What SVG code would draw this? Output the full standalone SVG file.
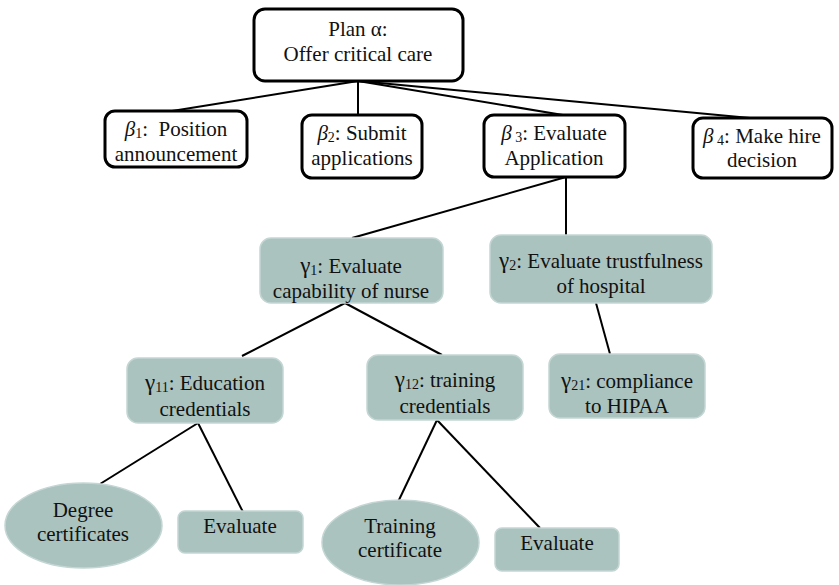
<svg xmlns="http://www.w3.org/2000/svg" width="839" height="585" viewBox="0 0 839 585">
<style>
text{font-family:"Liberation Serif","Times New Roman",serif;font-size:21px;fill:#111;text-anchor:middle}
.w{fill:#fff;stroke:#000;stroke-width:3}
.g{fill:#aac3bf;stroke:#c4d6d3;stroke-width:1.5}
.sub{font-size:14px}
.it{font-style:italic}
.gm{font-size:23px}
#connectors line{stroke:#000;stroke-width:2}
</style>
<rect width="839" height="585" fill="#fff"/>
<g id="connectors">
<line x1="358" y1="81" x2="172" y2="111"/>
<line x1="358" y1="81" x2="358" y2="115"/>
<line x1="358" y1="81" x2="563" y2="115"/>
<line x1="358" y1="81" x2="750" y2="118"/>
<line x1="566" y1="177" x2="352" y2="238"/>
<line x1="566" y1="177" x2="566" y2="235"/>
<line x1="345" y1="303" x2="242" y2="356"/>
<line x1="345" y1="303" x2="442" y2="355"/>
<line x1="596" y1="303" x2="610" y2="354"/>
<line x1="198" y1="423" x2="100" y2="484"/>
<line x1="198" y1="423" x2="243" y2="512"/>
<line x1="437" y1="420" x2="398" y2="502"/>
<line x1="437" y1="420" x2="540" y2="528"/>
</g>
<g id="plan">
<rect class="w" x="254" y="9" width="209" height="72" rx="11"/>
<text x="358" y="36">Plan α:</text>
<text x="358" y="61">Offer critical care</text>
</g>
<g id="b1">
<rect class="w" x="105" y="111" width="142" height="56" rx="10"/>
<text x="176" y="136"><tspan class="it">β</tspan><tspan class="sub" dy="2">1</tspan><tspan dy="-2">: &#160;Position</tspan></text>
<text x="176" y="161">announcement</text>
</g>
<g id="b2">
<rect class="w" x="302" y="115" width="120" height="63" rx="10"/>
<text x="362" y="140"><tspan class="it">β</tspan><tspan class="sub" dy="2">2</tspan><tspan dy="-2">: Submit</tspan></text>
<text x="362" y="165">applications</text>
</g>
<g id="b3">
<rect class="w" x="484" y="115" width="141" height="62" rx="10"/>
<text x="554" y="140"><tspan class="it">β</tspan><tspan class="sub" dy="2"> 3</tspan><tspan dy="-2">: Evaluate</tspan></text>
<text x="554" y="165">Application</text>
</g>
<g id="b4">
<rect class="w" x="693" y="118" width="139" height="60" rx="10"/>
<text x="762" y="143"><tspan class="it">β</tspan><tspan class="sub" dy="2"> 4</tspan><tspan dy="-2">: Make hire</tspan></text>
<text x="762" y="167">decision</text>
</g>
<g id="g1">
<rect class="g" x="260" y="238" width="183" height="65" rx="11"/>
<text x="351" y="273"><tspan class="gm">γ</tspan><tspan class="sub" dy="2">1</tspan><tspan dy="-2">: Evaluate</tspan></text>
<text x="351" y="298">capability of nurse</text>
</g>
<g id="g2">
<rect class="g" x="490" y="235" width="222" height="68" rx="11"/>
<text x="601" y="268"><tspan class="gm">γ</tspan><tspan class="sub" dy="2">2</tspan><tspan dy="-2">: Evaluate trustfulness</tspan></text>
<text x="601" y="293">of hospital</text>
</g>
<g id="g11">
<rect class="g" x="127" y="358" width="156" height="65" rx="11"/>
<text x="205" y="390"><tspan class="gm">γ</tspan><tspan class="sub" dy="2">11</tspan><tspan dy="-2">: Education</tspan></text>
<text x="205" y="416">credentials</text>
</g>
<g id="g12">
<rect class="g" x="367" y="355" width="156" height="65" rx="11"/>
<text x="445" y="387"><tspan class="gm">γ</tspan><tspan class="sub" dy="2">12</tspan><tspan dy="-2">: training</tspan></text>
<text x="445" y="413">credentials</text>
</g>
<g id="g21">
<rect class="g" x="549" y="354" width="156" height="64" rx="11"/>
<text x="627" y="388"><tspan class="gm">γ</tspan><tspan class="sub" dy="2">21</tspan><tspan dy="-2">: compliance</tspan></text>
<text x="627" y="413">to HIPAA</text>
</g>
<g id="degree">
<ellipse class="g" cx="83.5" cy="525.5" rx="78.5" ry="42.5"/>
<text x="83" y="517">Degree</text>
<text x="83" y="541">certificates</text>
</g>
<g id="eval1">
<rect class="g" x="178" y="511" width="125" height="42" rx="7"/>
<text x="240" y="533">Evaluate</text>
</g>
<g id="training">
<ellipse class="g" cx="400.5" cy="542.5" rx="78.5" ry="42.5"/>
<text x="400" y="533">Training</text>
<text x="400" y="557">certificate</text>
</g>
<g id="eval2">
<rect class="g" x="495" y="528" width="124" height="43" rx="7"/>
<text x="557" y="550">Evaluate</text>
</g>
</svg>
